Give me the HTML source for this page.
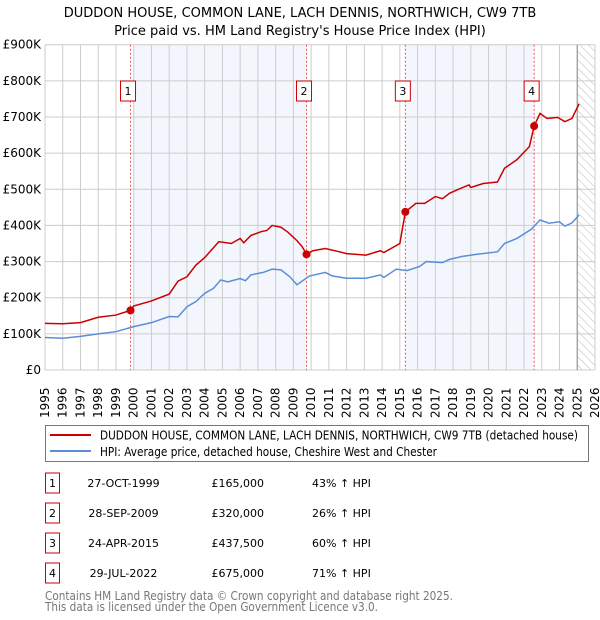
<!DOCTYPE html>
<html><head><meta charset="utf-8"><style>
body{margin:0;background:#fff;font-family:"DejaVu Sans","Liberation Sans",sans-serif;}
#wrap{position:relative;width:600px;height:620px;overflow:hidden;}
</style></head><body>
<div id="wrap">
<svg id="svg" width="600" height="620" style="position:absolute;left:0;top:0" font-family="DejaVu Sans, Liberation Sans, sans-serif">
<defs><pattern id="hatch" width="6" height="6" patternUnits="userSpaceOnUse" patternTransform="rotate(-45)"><line x1="0" y1="0" x2="0" y2="6" stroke="#bbb" stroke-width="1"/></pattern></defs>
<text x="300" y="17" text-anchor="middle" font-size="13">DUDDON HOUSE, COMMON LANE, LACH DENNIS, NORTHWICH, CW9 7TB</text>
<text x="300" y="35" text-anchor="middle" font-size="13">Price paid vs. HM Land Registry's House Price Index (HPI)</text>
<g id="plot"></g>
<g>
<rect x="45.5" y="425.5" width="543" height="36" fill="#fff" stroke="#777"/>
<line x1="50" x2="91" y1="435" y2="435" stroke="#c00" stroke-width="2"/>
<text x="100" y="439.5" font-size="12" textLength="478" lengthAdjust="spacingAndGlyphs">DUDDON HOUSE, COMMON LANE, LACH DENNIS, NORTHWICH, CW9 7TB (detached house)</text>
<line x1="50" x2="91" y1="451" y2="451" stroke="#5b8ed6" stroke-width="2"/>
<text x="100" y="456" font-size="12" textLength="337" lengthAdjust="spacingAndGlyphs">HPI: Average price, detached house, Cheshire West and Chester</text>
</g>
<g id="table"></g>
<text x="45" y="600" font-size="12" fill="#777" textLength="408" lengthAdjust="spacingAndGlyphs">Contains HM Land Registry data © Crown copyright and database right 2025.</text>
<text x="45" y="611" font-size="12" fill="#777" textLength="333" lengthAdjust="spacingAndGlyphs">This data is licensed under the Open Government Licence v3.0.</text>
</svg>
</div>
<script>
const redYears=[1995,1996,1997,1998,1999,1999.82,2000,2001,2002,2002.5,2003,2003.5,2004,2004.8,2005.5,2006,2006.2,2006.6,2007.2,2007.5,2007.8,2008.3,2008.7,2009.2,2009.5,2009.74,2010.1,2010.8,2011.6,2012,2013.1,2013.9,2014.1,2015,2015.31,2015.9,2016.4,2017,2017.4,2017.8,2018.3,2018.9,2019,2019.7,2020.5,2020.9,2021.6,2022.3,2022.57,2022.9,2023.3,2023.9,2024.3,2024.7,2025.1];
const redVals=[129,128,131,146,152,165,177,191,210,246,258,290,311,355,350,364,352,372,383,386,400,395,381,358,341,320,330,336,327,322,318,330,325,350,437.5,461,461,480,474,489,500,512,505,516,520,558,582,618,675,710,696,699,687,696,736];
const hpiYears=[1995,1996,1997,1998,1999,2000,2001,2002,2002.5,2003,2003.5,2004,2004.5,2004.9,2005.3,2006,2006.3,2006.6,2007.3,2007.8,2008.3,2008.8,2009.2,2009.9,2010.8,2011.2,2012,2013.1,2013.9,2014.1,2014.8,2015.4,2016.1,2016.5,2017.4,2017.8,2018.5,2019.3,2020.5,2020.9,2021.6,2022.4,2022.9,2023.4,2024,2024.3,2024.7,2025.1];
const hpiVals=[90,88,93,100,106,120,131,148,147,175,189,212,226,249,244,253,247,263,270,279,277,258,236,260,270,260,254,254,263,256,279,275,286,300,297,306,314,320,327,350,364,389,415,406,410,398,407,429];
const saleYears=[1999.82,2009.74,2015.31,2022.57];
const saleVals=[165,320,437.5,675];
const saleLabels=["1","2","3","4"];
const saleDates=["27-OCT-1999","28-SEP-2009","24-APR-2015","29-JUL-2022"];
const salePrices=["£165,000","£320,000","£437,500","£675,000"];
const salePct=["43% ↑ HPI","26% ↑ HPI","60% ↑ HPI","71% ↑ HPI"];
const yTicks=[0,100,200,300,400,500,600,700,800,900];
const yTickLabels=["£0","£100K","£200K","£300K","£400K","£500K","£600K","£700K","£800K","£900K"];
const L=45,R=595,T=44.7,B=370,X0=1995,X1=2026;
const xs=y=>L+(y-X0)*(R-L)/(X1-X0);
const ys=v=>B-v*(B-T)/900;
const NS="http://www.w3.org/2000/svg";
function mk(parent,tag,at,name){const e=document.createElementNS(NS,tag);for(const k in at)e.setAttribute(k,at[k]);


parent.appendChild(e);return e;}
const g=document.getElementById('plot');
mk(g,'rect',{x:xs(2000),y:T,width:xs(saleYears[1])-xs(2000),height:B-T,fill:'#eef3fc',opacity:0.7},'shade-band-1');
mk(g,'rect',{x:xs(saleYears[2]),y:T,width:xs(saleYears[3])-xs(saleYears[2]),height:B-T,fill:'#eef3fc',opacity:0.7},'shade-band-2');
mk(g,'rect',{x:xs(2025),y:T,width:R-xs(2025),height:B-T,fill:'url(#hatch)'},'future-hatch');
for(let yr=X0;yr<=X1;yr++){mk(g,'line',{x1:xs(yr),x2:xs(yr),y1:T,y2:B,stroke:'#ccc','stroke-width':1},'x-grid');
 const t=mk(g,'text',{x:0,y:0,transform:`translate(${xs(yr)+4},418) rotate(-90)`,'font-size':12},'x-tick-label');t.textContent=yr;}
yTicks.forEach((v,i)=>{mk(g,'line',{x1:L,x2:R,y1:ys(v),y2:ys(v),stroke:'#ccc','stroke-width':1},'y-grid');
 const t=mk(g,'text',{x:41,y:ys(v)+4,'text-anchor':'end','font-size':12},'y-tick-label');t.textContent=yTickLabels[i];});
mk(g,'line',{x1:xs(2025),x2:xs(2025),y1:T,y2:B,stroke:'#999','stroke-width':1.2},'today-line');
saleYears.forEach(s=>mk(g,'line',{x1:xs(s),x2:xs(s),y1:T,y2:B,stroke:'#e55','stroke-width':1,'stroke-dasharray':'2,2'},'sale-line'));
mk(g,'polyline',{points:hpiYears.map((y,i)=>xs(y)+','+ys(hpiVals[i])).join(' '),fill:'none',stroke:'#5b8ed6','stroke-width':1.5},'hpi-line');
mk(g,'polyline',{points:redYears.map((y,i)=>xs(y)+','+ys(redVals[i])).join(' '),fill:'none',stroke:'#c00','stroke-width':1.5},'price-line');
saleYears.forEach((s,i)=>{mk(g,'circle',{cx:xs(s),cy:ys(saleVals[i]),r:4,fill:'#c00'},'sale-point');
 mk(g,'rect',{x:xs(s)-10,y:81,width:15,height:20,fill:'#fff',stroke:'#c00'},'sale-marker-box');
 const t=mk(g,'text',{x:xs(s)-2.5,y:95,'text-anchor':'middle','font-size':11},'sale-marker-label');t.textContent=saleLabels[i];});
const tb=document.getElementById('table');
const rowY=[483,513,543,573];
saleLabels.forEach((l,i)=>{const y=rowY[i];
 mk(tb,'rect',{x:45.5,y:y-10,width:14,height:20,fill:'#fff',stroke:'#c00'},'sale-row-badge');
 let t=mk(tb,'text',{x:52.5,y:y+4,'text-anchor':'middle','font-size':11},'sale-row-number');t.textContent=l;
 t=mk(tb,'text',{x:123.5,y:y+4,'text-anchor':'middle','font-size':11},'sale-row-date');t.textContent=saleDates[i];
 t=mk(tb,'text',{x:264,y:y+4,'text-anchor':'end','font-size':11},'sale-row-price');t.textContent=salePrices[i];
 t=mk(tb,'text',{x:312,y:y+4,'font-size':11},'sale-row-hpi');t.textContent=salePct[i];});
</script>
</body></html>
